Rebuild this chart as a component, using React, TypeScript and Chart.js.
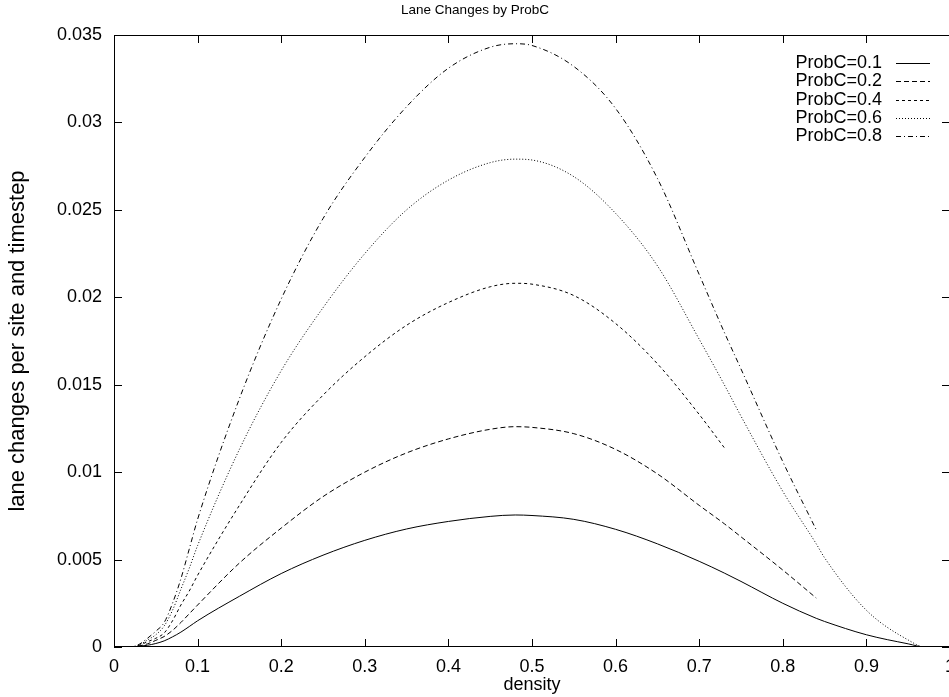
import React, { useEffect, useRef } from "react";
import { Chart, registerables } from "chart.js";

Chart.register(...registerables);

const chartTitle = "Lane Changes by ProbC";
const xTitle = "density";
const yTitle = "lane changes per site and timestep";
const seriesLabels = ["ProbC=0.1", "ProbC=0.2", "ProbC=0.4", "ProbC=0.6", "ProbC=0.8"];

const density = [0, 0.02, 0.03, 0.04, 0.05, 0.06, 0.07, 0.08, 0.09, 0.1, 0.15, 0.2, 0.25, 0.3, 0.35, 0.4, 0.45, 0.48, 0.5, 0.55, 0.6, 0.65, 0.7, 0.73, 0.75, 0.8, 0.84, 0.85, 0.9, 0.95, 0.97, 1.0];

const probC01 = [0, 0, 0.00004, 0.0001, 0.0002, 0.00035, 0.00058, 0.00085, 0.00117, 0.0015, 0.0029, 0.0042, 0.00525, 0.0061, 0.00675, 0.00718, 0.00747, 0.00755, 0.00752, 0.0073, 0.00673, 0.0059, 0.0049, 0.00423, 0.00375, 0.0025, 0.00164, 0.00146, 0.0007, 0.00018, 0, 0];
const probC02 = [0, 0, 0.00006, 0.00018, 0.00038, 0.0006, 0.00095, 0.0014, 0.0019, 0.0024, 0.0048, 0.0068, 0.0086, 0.01, 0.0111, 0.0119, 0.01245, 0.0126, 0.01256, 0.0122, 0.0113, 0.0099, 0.0081, 0.00705, 0.0063, 0.0044, 0.0028, null, null, null, null, null];
const probC04 = [0, 0, 0.0001, 0.0003, 0.0005, 0.0008, 0.0015, 0.0024, 0.0032, 0.0041, 0.0081, 0.0117, 0.0144, 0.0166, 0.0184, 0.0197, 0.0206, 0.0208, 0.02075, 0.0201, 0.0185, 0.0162, 0.0133, 0.0114, null, null, null, null, null, null, null, null];
const probC06 = [0, 0, 0.00012, 0.0004, 0.0007, 0.0012, 0.0021, 0.0033, 0.0045, 0.0058, 0.0113, 0.0158, 0.0194, 0.0225, 0.025, 0.0267, 0.0277, 0.0279, 0.02785, 0.0269, 0.0248, 0.0218, 0.0176, 0.015, 0.0132, 0.0089, 0.0059, 0.0051, 0.0021, 0.0004, 0, 0];
const probC08 = [0, 0, 0.00015, 0.0005, 0.0009, 0.0014, 0.0025, 0.0039, 0.0056, 0.0073, 0.0142, 0.0199, 0.0245, 0.028, 0.0309, 0.0331, 0.0343, 0.0345, 0.0344, 0.0332, 0.0308, 0.0268, 0.0213, 0.018, 0.0159, 0.0106, 0.0067, null, null, null, null, null];

const seriesValues = [probC01, probC02, probC04, probC06, probC08];
const dashes: number[][] = [[], [5, 3], [3, 3], [1, 2], [5, 3, 1, 3]];

const FONT = '"Liberation Sans", Arial, Helvetica, sans-serif';

const fmt = (v: number) => String(Number(Number(v).toFixed(3)));

const frameTicks = {
  id: "frameTicks",
  afterDatasetsDraw(chart: any) {
    const { ctx, chartArea, scales } = chart;
    const { left, right, top, bottom } = chartArea;
    const xs = scales.x;
    const ys = scales.y;
    const L = 8;
    ctx.save();
    ctx.strokeStyle = "#000";
    ctx.lineWidth = 1;
    ctx.setLineDash([]);
    ctx.beginPath();
    xs.ticks.forEach((_t: any, i: number) => {
      const px = Math.round(xs.getPixelForTick(i)) + 0.5;
      ctx.moveTo(px, bottom);
      ctx.lineTo(px, bottom - L);
      ctx.moveTo(px, top);
      ctx.lineTo(px, top + L);
    });
    ys.ticks.forEach((_t: any, i: number) => {
      const py = Math.round(ys.getPixelForTick(i)) + 0.5;
      ctx.moveTo(left, py);
      ctx.lineTo(left + L, py);
      ctx.moveTo(right, py);
      ctx.lineTo(right - L, py);
    });
    ctx.stroke();
    ctx.strokeRect(Math.round(left) + 0.5, Math.round(top) + 0.5, Math.round(right) - Math.round(left), Math.round(bottom) - Math.round(top) - 1);
    ctx.restore();
  },
};

const keyPlugin = {
  id: "gpKey",
  afterDraw(chart: any) {
    const { ctx, chartArea } = chart;
    const textRight = chartArea.right - 68;
    const lineStart = chartArea.right - 54;
    const lineEnd = chartArea.right - 20;
    ctx.save();
    ctx.font = "18px " + FONT;
    ctx.textAlign = "right";
    ctx.textBaseline = "middle";
    ctx.fillStyle = "#000";
    ctx.strokeStyle = "#000";
    ctx.lineWidth = 1;
    chart.data.datasets.forEach((ds: any, i: number) => {
      const yy = chartArea.top + 28 + i * 18.3;
      ctx.fillText(ds.label, textRight, yy);
      ctx.setLineDash(ds.borderDash || []);
      ctx.beginPath();
      const ly = Math.round(yy) + 0.5;
      ctx.moveTo(lineStart, ly);
      ctx.lineTo(lineEnd, ly);
      ctx.stroke();
    });
    ctx.restore();
  },
};

export default function App() {
  const ref = useRef<HTMLCanvasElement | null>(null);

  useEffect(() => {
    if (!ref.current) return;
    Chart.defaults.font.family = FONT;
    Chart.defaults.color = "#000";
    const datasets = seriesLabels.map((label, si) => ({
      label,
      data: density
        .map((d, i) => ({ x: d, y: seriesValues[si][i] }))
        .filter((p) => p.y !== null && p.y !== undefined),
      borderColor: "#000",
      borderWidth: 1,
      borderDash: dashes[si],
      pointRadius: 0,
      fill: false,
      cubicInterpolationMode: "monotone" as const,
    }));

    const chart = new Chart(ref.current, {
      type: "line",
      data: { datasets },
      plugins: [frameTicks, keyPlugin],
      options: {
        animation: false,
        responsive: false,
        devicePixelRatio: 1,
        layout: { padding: 0 },
        plugins: {
          legend: { display: false },
          tooltip: { enabled: false },
          title: {
            display: true,
            text: chartTitle,
            color: "#000",
            font: { size: 13.5, weight: "normal", family: FONT, lineHeight: 1.2 },
            padding: { top: 2.2, bottom: 16.6 },
          },
        },
        scales: {
          x: {
            type: "linear",
            min: 0,
            max: 1,
            grid: { display: false, drawTicks: false },
            border: { display: false },
            ticks: {
              stepSize: 0.1,
              autoSkip: false,
              maxRotation: 0,
              padding: 9,
              color: "#000",
              font: { size: 18, family: FONT },
              callback: (v: any) => fmt(v),
            },
            title: {
              display: true,
              text: xTitle,
              color: "#000",
              font: { size: 18, family: FONT, lineHeight: 1.2 },
              padding: { top: 0, bottom: 1 },
            },
            afterFit: (s: any) => {
              s.height = 50;
              s.paddingLeft = 0;
              s.paddingRight = 0;
            },
          },
          y: {
            type: "linear",
            min: 0,
            max: 0.035,
            grid: { display: false, drawTicks: false },
            border: { display: false },
            ticks: {
              stepSize: 0.005,
              padding: 12,
              color: "#000",
              font: { size: 18, family: FONT },
              callback: (v: any) => fmt(v),
            },
            title: {
              display: true,
              text: yTitle,
              color: "#000",
              font: { size: 22, family: FONT, lineHeight: 1.2 },
              padding: { top: 5, bottom: 0 },
            },
            afterFit: (s: any) => {
              s.width = 114;
            },
          },
        },
      },
    } as any);
    return () => chart.destroy();
  }, []);

  return (
    <div style={{ position: "absolute", left: 0, top: 0, width: 949, height: 697, overflow: "hidden", background: "#fff" }}>
      <canvas ref={ref} width={950} height={697} style={{ width: 950, height: 697, display: "block" }} />
    </div>
  );
}
